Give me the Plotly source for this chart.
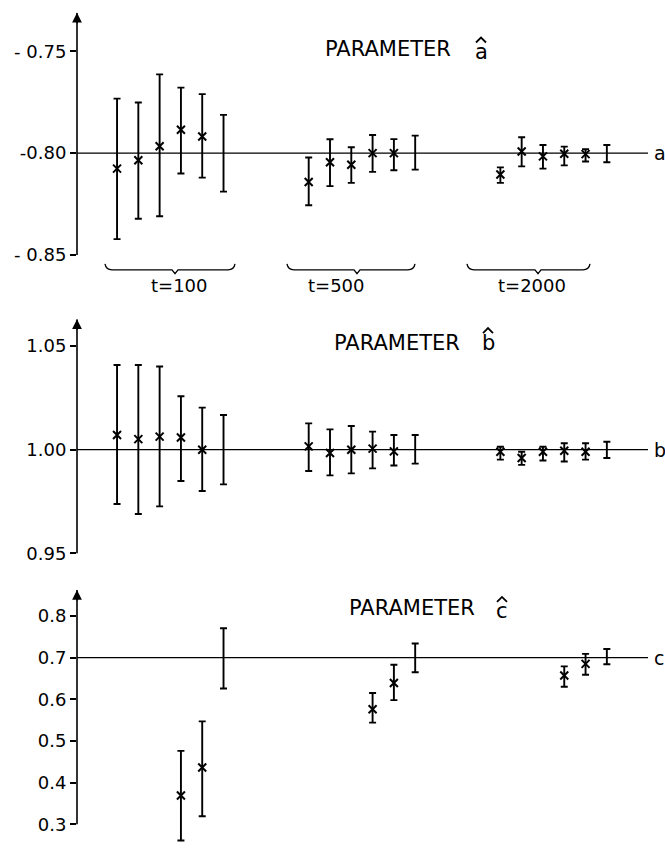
import plotly.graph_objects as go
from plotly.subplots import make_subplots

# ---------------- data ----------------
groups = ["t=100", "t=500", "t=2000"]
methods = [1, 2, 3, 4, 5, 6]          # method 6: interval only (no estimate marker)

# Parameter a (true value -0.80)
a_true = -0.80
a_est = [-0.8076, -0.8035, -0.7966, -0.7885, -0.7918, None,
         -0.8142, -0.8045, -0.8057, -0.8000, -0.8000, None,
         -0.8105, -0.7992, -0.8016, -0.8003, -0.8005, None]
a_lo = [-0.8422, -0.8322, -0.8310, -0.8100, -0.8120, -0.8189,
        -0.8256, -0.8162, -0.8146, -0.8092, -0.8084, -0.8081,
        -0.8146, -0.8065, -0.8076, -0.8060, -0.8041, -0.8045]
a_hi = [-0.7732, -0.7751, -0.7613, -0.7678, -0.7710, -0.7812,
        -0.8021, -0.7932, -0.7971, -0.7911, -0.7931, -0.7914,
        -0.8070, -0.7922, -0.7960, -0.7968, -0.7981, -0.7960]

# Parameter b (true value 1.00)
b_true = 1.00
b_est = [1.0071, 1.0051, 1.0063, 1.0059, 1.0000, None,
         1.0016, 0.9984, 1.0000, 1.0005, 0.9992, None,
         0.9990, 0.9960, 0.9990, 0.9995, 0.9990, None]
b_lo = [0.9738, 0.9690, 0.9727, 0.9849, 0.9801, 0.9833,
        0.9897, 0.9876, 0.9886, 0.9910, 0.9924, 0.9933,
        0.9952, 0.9927, 0.9948, 0.9943, 0.9952, 0.9960]
b_hi = [1.0408, 1.0408, 1.0401, 1.0258, 1.0203, 1.0167,
        1.0127, 1.0098, 1.0114, 1.0087, 1.0071, 1.0071,
        1.0014, 0.9990, 1.0014, 1.0031, 1.0031, 1.0038]

# Parameter c (true value 0.70)
c_true = 0.70
c_est = [None, None, None, 0.369, 0.436, None,
         None, None, None, 0.576, 0.639, None,
         None, None, None, 0.657, 0.685, None]
c_lo = [None, None, None, 0.261, 0.319, 0.626,
        None, None, None, 0.544, 0.598, 0.665,
        None, None, None, 0.630, 0.659, 0.684]
c_hi = [None, None, None, 0.476, 0.547, 0.7705,
        None, None, None, 0.615, 0.683, 0.734,
        None, None, None, 0.679, 0.709, 0.7206]

a_ticks = [-0.85, -0.80, -0.75]
a_ticktext = ["- 0.85", "-0.80", "- 0.75"]
b_ticks = [0.95, 1.00, 1.05]
b_ticktext = ["0.95", "1.00", "1.05"]
c_ticks = [0.3, 0.4, 0.5, 0.6, 0.7, 0.8]
c_ticktext = ["0.3", "0.4", "0.5", "0.6", "0.7", "0.8"]

# x positions: groups separated by a gap of 3 slots
GROUP_STEP = 9
xpos = [g * GROUP_STEP + m for g in range(len(groups)) for m in methods]

# ---------------- layout geometry (pixels) ----------------
W, H = 665, 852
ML, MR = 77, 13
PW = W - ML - MR


def px(p):
    return (p - ML) / PW


def py(p):
    return 1 - p / H


FONT = "DejaVu Sans"
fig = make_subplots(rows=3, cols=1)

panels = [
    dict(est=a_est, lo=a_lo, hi=a_hi, true=a_true, rng=[-0.85, -0.7311],
         dom=(13, 258), ticks=a_ticks, tt=a_ticktext, axbot=-0.85,
         tx=323, ty=50, sym="a", symx=481, symy=53, haty=43, lab="a"),
    dict(est=b_est, lo=b_lo, hi=b_hi, true=b_true, rng=[0.95, 1.0629],
         dom=(323, 560), ticks=b_ticks, tt=b_ticktext, axbot=0.95,
         tx=332, ty=347, sym="b", symx=488, symy=347, haty=337, lab="b"),
    dict(est=c_est, lo=c_lo, hi=c_hi, true=c_true, rng=[0.2573, 0.8624],
         dom=(597, 852), ticks=c_ticks, tt=c_ticktext, axbot=0.3,
         tx=347, ty=615, sym="c", symx=502, symy=618, haty=609, lab="c"),
]

shapes = []
annotations = []
for i, p in enumerate(panels):
    row = i + 1
    mids, ep, em, xs = [], [], [], []
    for x, lo, hi in zip(xpos, p["lo"], p["hi"]):
        if lo is None or hi is None:
            continue
        m = (lo + hi) / 2
        xs.append(x)
        mids.append(m)
        ep.append(hi - m)
        em.append(m - lo)
    fig.add_trace(go.Scatter(
        x=xs, y=mids, mode="markers",
        marker=dict(size=1, color="rgba(0,0,0,0)"),
        error_y=dict(type="data", symmetric=False, array=ep, arrayminus=em,
                     color="black", thickness=1.9, width=3.5),
        cliponaxis=False, showlegend=False, hoverinfo="skip"), row=row, col=1)
    ex = [x for x, e in zip(xpos, p["est"]) if e is not None]
    ey = [e for e in p["est"] if e is not None]
    fig.add_trace(go.Scatter(
        x=ex, y=ey, mode="markers",
        marker=dict(symbol="x-thin", size=8, line=dict(width=2, color="black"),
                    color="black"),
        cliponaxis=False, showlegend=False), row=row, col=1)

    yname = "y" if i == 0 else f"y{i + 1}"
    yax = "yaxis" if i == 0 else f"yaxis{i + 1}"
    xax = "xaxis" if i == 0 else f"xaxis{i + 1}"
    fig.layout[yax].update(
        domain=[py(p["dom"][1]), py(p["dom"][0])], range=p["rng"],
        tickvals=p["ticks"], ticktext=p["tt"], ticks="outside", ticklen=6,
        tickwidth=1.5, tickcolor="black", showline=False, showgrid=False,
        zeroline=False, tickfont=dict(family=FONT, size=18, color="black"))
    fig.layout[xax].update(range=[-0.88, 26.12], visible=False)

    # vertical axis line
    shapes.append(dict(type="line", xref="paper", yref=yname, x0=0, x1=0,
                       y0=p["axbot"], y1=p["rng"][1],
                       line=dict(color="black", width=1.6)))
    # arrow head on top of axis
    annotations.append(dict(xref="paper", yref=yname, x=0, y=p["rng"][1],
                            ax=0, ay=12, showarrow=True, arrowhead=2,
                            arrowsize=1.3, arrowwidth=1.5, arrowcolor="black",
                            text=""))
    # reference (true value) line
    shapes.append(dict(type="line", xref="paper", yref=yname, x0=0,
                       x1=px(648), y0=p["true"], y1=p["true"],
                       line=dict(color="black", width=1.3)))
    annotations.append(dict(xref="paper", yref=yname, x=px(652), y=p["true"],
                            xanchor="left", yanchor="middle", showarrow=False,
                            text=p["lab"],
                            font=dict(family=FONT, size=19, color="black")))
    # title "PARAMETER" + estimated symbol with a hat
    annotations.append(dict(xref="paper", yref="paper", x=px(p["tx"]),
                            y=py(p["ty"]), xanchor="left", yanchor="middle",
                            showarrow=False, text="PARAMETER",
                            font=dict(family=FONT, size=21, color="black")))
    annotations.append(dict(xref="paper", yref="paper", x=px(p["symx"]),
                            y=py(p["symy"]), xanchor="center", yanchor="middle",
                            showarrow=False, text=p["sym"],
                            font=dict(family=FONT, size=21, color="black")))
    hx, hy = p["symx"], p["haty"]
    shapes.append(dict(type="path", xref="paper", yref="paper",
                       path=(f"M {px(hx - 5)},{py(hy)} L {px(hx)},{py(hy - 5)} "
                             f"L {px(hx + 5)},{py(hy)}"),
                       line=dict(color="black", width=1.8)))

# braces under panel a with group labels
braces = [(105, 235, 175, 179), (287, 415, 357, 336), (467, 590, 538, 532)]
for (L, R, T, lx), g in zip(braces, groups):
    Y = 273
    path = (f"M {px(L)},{py(Y - 6)} Q {px(L + 1)},{py(Y)} {px(L + 7)},{py(Y)} "
            f"L {px(T - 3)},{py(Y)} L {px(T)},{py(Y + 4)} L {px(T + 3)},{py(Y)} "
            f"L {px(R - 7)},{py(Y)} Q {px(R - 1)},{py(Y)} {px(R)},{py(Y - 6)}")
    shapes.append(dict(type="path", xref="paper", yref="paper", path=path,
                       line=dict(color="black", width=1.3)))
    annotations.append(dict(xref="paper", yref="paper", x=px(lx), y=py(289),
                            xanchor="center", yanchor="middle", showarrow=False,
                            text=g, font=dict(family=FONT, size=18, color="black")))

fig.update_layout(
    width=W, height=H, margin=dict(l=ML, r=MR, t=0, b=0),
    paper_bgcolor="white", plot_bgcolor="white",
    shapes=shapes, annotations=annotations, showlegend=False,
)

fig.write_html("out.html")
